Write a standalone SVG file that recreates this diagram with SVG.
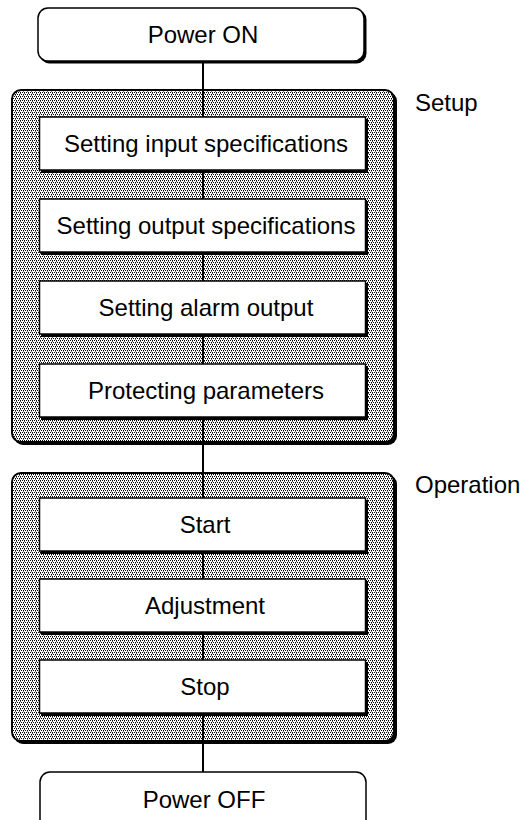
<svg xmlns="http://www.w3.org/2000/svg" width="522" height="820" viewBox="0 0 522 820">
  <defs>
    <pattern id="dither" width="4" height="4" patternUnits="userSpaceOnUse">
      <rect width="4" height="4" fill="#ffffff"/>
      <rect x="0" y="0" width="1" height="1" fill="#000000"/>
      <rect x="2" y="0" width="1" height="1" fill="#000000"/>
      <rect x="1" y="2" width="1" height="1" fill="#000000"/>
      <rect x="3" y="2" width="1" height="1" fill="#000000"/>
      <rect x="0" y="1" width="1" height="1" fill="#555555"/>
      <rect x="3" y="3" width="1" height="1" fill="#777777"/>
    </pattern>
  </defs>
  <style>
    .shadow { fill: #000000; }
    .panel { fill: url(#dither); stroke: #000000; stroke-width: 2; }
    .box { fill: #ffffff; stroke: #000000; stroke-width: 1.5; }
    .term { fill: #ffffff; stroke: #000000; stroke-width: 1.5; }
    .conn { stroke: #000000; stroke-width: 2; fill: none; }
    text { font-family: "Liberation Sans", Arial, sans-serif; font-size: 24px; fill: #000000; }
    .c { text-anchor: middle; }
  </style>
  <rect width="522" height="820" fill="#ffffff"/>

  <g id="panel-setup">
    <rect class="shadow" x="14" y="92" width="383" height="353" rx="9"/>
    <rect class="panel" x="12" y="90" width="382" height="352" rx="9"/>
    <text x="415" y="111">Setup</text>
  </g>
  <g id="panel-operation">
    <rect class="shadow" x="14" y="475" width="383" height="269" rx="9"/>
    <rect class="panel" x="12" y="473" width="382" height="268" rx="9"/>
    <text x="415" y="493">Operation</text>
  </g>

  <g id="connectors">
    <line class="conn" x1="203" y1="62" x2="203" y2="117"/>
    <line class="conn" x1="203" y1="171" x2="203" y2="199"/>
    <line class="conn" x1="203" y1="253" x2="203" y2="281"/>
    <line class="conn" x1="203" y1="335" x2="203" y2="364"/>
    <line class="conn" x1="203" y1="418" x2="203" y2="498"/>
    <line class="conn" x1="203" y1="552" x2="203" y2="579"/>
    <line class="conn" x1="203" y1="633" x2="203" y2="660"/>
    <line class="conn" x1="203" y1="714" x2="203" y2="772"/>
  </g>

  <g id="power-on">
    <rect class="shadow" x="39.5" y="9.5" width="327" height="54" rx="10"/>
    <rect class="term" x="38" y="8" width="326" height="53" rx="10"/>
    <text class="c" x="203" y="43">Power ON</text>
  </g>

  <g id="setting-input">
    <rect class="shadow" x="41" y="119" width="327" height="54"/>
    <rect class="box" x="39.5" y="117" width="326" height="53"/>
    <text class="c" x="206" y="152">Setting input specifications</text>
  </g>
  <g id="setting-output">
    <rect class="shadow" x="41" y="201" width="327" height="54"/>
    <rect class="box" x="39.5" y="199" width="326" height="53"/>
    <text class="c" x="206" y="234">Setting output specifications</text>
  </g>
  <g id="setting-alarm">
    <rect class="shadow" x="41" y="283" width="327" height="54"/>
    <rect class="box" x="39.5" y="281" width="326" height="53"/>
    <text class="c" x="206" y="316">Setting alarm output</text>
  </g>
  <g id="protecting">
    <rect class="shadow" x="41" y="366" width="327" height="54"/>
    <rect class="box" x="39.5" y="364" width="326" height="53"/>
    <text class="c" x="206" y="399">Protecting parameters</text>
  </g>

  <g id="start">
    <rect class="shadow" x="41" y="500" width="327" height="54"/>
    <rect class="box" x="39.5" y="498" width="326" height="53"/>
    <text class="c" x="205" y="533">Start</text>
  </g>
  <g id="adjustment">
    <rect class="shadow" x="41" y="581" width="327" height="54"/>
    <rect class="box" x="39.5" y="579" width="326" height="53"/>
    <text class="c" x="205" y="614">Adjustment</text>
  </g>
  <g id="stop">
    <rect class="shadow" x="41" y="662" width="327" height="54"/>
    <rect class="box" x="39.5" y="660" width="326" height="53"/>
    <text class="c" x="205" y="695">Stop</text>
  </g>

  <g id="power-off">
    <rect class="term" x="40" y="772" width="326" height="70" rx="10"/>
    <text class="c" x="204" y="808">Power OFF</text>
  </g>
</svg>
